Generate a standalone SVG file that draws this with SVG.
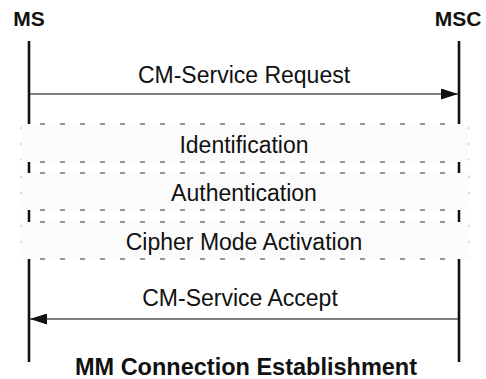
<svg xmlns="http://www.w3.org/2000/svg" width="486" height="379" viewBox="0 0 486 379">
<style>
text{font-family:"Liberation Sans",Arial,sans-serif;fill:#111;text-anchor:middle}
.hdr{font-weight:bold;font-size:21px}
.lbl{font-size:23px}
.title{font-weight:bold;font-size:23.5px}
.life{stroke:#111;stroke-width:2.6;fill:none}
.msg{stroke:#555;stroke-width:1.6;fill:none}
.box{fill:#fbfbfb;stroke:none}
.hline{stroke:#777;stroke-width:1.3;stroke-dasharray:5 15;fill:none}
.vline{stroke:#bbb;stroke-width:1;stroke-dasharray:2 14;fill:none}
</style>
<defs>
<marker id="ah" markerWidth="17" markerHeight="11" refX="17" refY="5.5" orient="auto" markerUnits="userSpaceOnUse">
<path d="M0,0 L17,5.5 L0,11 Z" fill="#111"/>
</marker>
</defs>
<g id="MS">
<text class="hdr" x="29" y="26">MS</text>
<line class="life" x1="29" y1="41" x2="29" y2="362"/>
</g>
<g id="MSC">
<text class="hdr" x="458" y="26">MSC</text>
<line class="life" x1="459" y1="41" x2="459" y2="362"/>
</g>
<g id="identification">
<rect class="box" x="21" y="124" width="448" height="38"/>
<line class="hline" x1="40" y1="124" x2="460" y2="124"/>
<line class="hline" x1="40" y1="162" x2="460" y2="162"/>
<line class="vline" x1="21" y1="127" x2="21" y2="160"/>
<line class="vline" x1="469" y1="127" x2="469" y2="160"/>
<text class="lbl" x="244" y="153">Identification</text>
</g>
<g id="authentication">
<rect class="box" x="21" y="173" width="448" height="37"/>
<line class="hline" x1="40" y1="173" x2="460" y2="173"/>
<line class="hline" x1="40" y1="210" x2="460" y2="210"/>
<line class="vline" x1="21" y1="176" x2="21" y2="208"/>
<line class="vline" x1="469" y1="176" x2="469" y2="208"/>
<text class="lbl" x="244" y="201">Authentication</text>
</g>
<g id="cipher">
<rect class="box" x="21" y="222" width="448" height="37"/>
<line class="hline" x1="40" y1="222" x2="460" y2="222"/>
<line class="hline" x1="40" y1="259" x2="460" y2="259"/>
<line class="vline" x1="21" y1="225" x2="21" y2="257"/>
<line class="vline" x1="469" y1="225" x2="469" y2="257"/>
<text class="lbl" x="244" y="250">Cipher Mode Activation</text>
</g>
<g id="connectors">
<line class="msg" x1="30" y1="94" x2="458" y2="94" marker-end="url(#ah)"/>
<text class="lbl" x="244" y="83">CM-Service Request</text>
<line class="msg" x1="458" y1="319" x2="30" y2="319" marker-end="url(#ah)"/>
<text class="lbl" x="240" y="306">CM-Service Accept</text>
</g>
<text class="title" x="246" y="375">MM Connection Establishment</text>
</svg>
